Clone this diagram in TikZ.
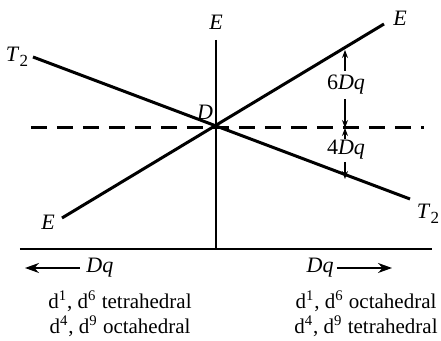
\documentclass[tikz,border=0pt]{standalone}
\usepackage{fontspec}
\setmainfont{Liberation Serif}
\usetikzlibrary{arrows.meta}
\begin{document}
\begin{tikzpicture}[x=0.5pt,y=-0.5pt,
  lvl/.style={line width=1.5pt},
  axis/.style={line width=1pt},
  lab/.style={inner sep=0pt,font=\fontsize{11}{13}\selectfont},
  txt/.style={inner sep=0pt,font=\fontsize{10.5}{12}\selectfont},
  dim/.style={line width=0.6pt,-{Stealth[length=4pt,width=3pt]}},
  bigarr/.style={line width=0.8pt,-{Stealth[length=7pt,width=5pt]}}]
\useasboundingbox (0,0) rectangle (441,341);
\coordinate (D) at (216,128);
\coordinate (axTop) at (216,40);
\coordinate (axBot) at (216,249);
\coordinate (baseL) at (20,249);
\coordinate (baseR) at (432,249);
\coordinate (eL) at (62,218);
\coordinate (eR) at (384,24);
\coordinate (tL) at (33,57);
\coordinate (tR) at (410,199);
\coordinate (dL) at (31,128);
\coordinate (dR) at (424,128);
\draw[axis] (axTop) -- (axBot);
\draw[axis] (baseL) -- (baseR);
\draw[lvl] (eL) -- (eR);
\draw[lvl] (tL) -- (tR);
\draw[lvl,dashed,dash pattern=on 8pt off 5pt] (dL) -- (dR);
% labels
\node[lab] (Etop) at (216,22) {\textit{E}};
\node[lab] (Eright) at (400,18) {\textit{E}};
\node[lab] (Eleft) at (48,222) {\textit{E}};
\node[lab] (Tleft) at (17,57) {\textit{T}\raisebox{-0.5ex}{\fontsize{8.5}{9}\selectfont 2}};
\node[lab] (Tright) at (428,214) {\textit{T}\raisebox{-0.5ex}{\fontsize{8.5}{9}\selectfont 2}};
\node[lab] (Dlab) at (205,112) {\textit{D}};
% dimension arrows
\node[lab] (six) at (346,85) {6\textit{Dq}};
\node[lab] (four) at (346,150) {4\textit{Dq}};
\coordinate (eHit) at (345,50);
\coordinate (dHit) at (345,128);
\coordinate (tHit) at (345,179);
\draw[dim] (six.north -| eHit) ++(0,-4) -- (eHit);
\draw[dim] (six.south -| eHit) ++(0,4) -- (dHit);
\draw[dim] (four.north -| eHit) ++(0,-1) -- (dHit);
\draw[dim] (four.south -| eHit) ++(0,2) -- (tHit);
% bottom
\node[lab,anchor=west] (dqL) at (86,268) {\textit{Dq}};
\node[lab,anchor=east] (dqR) at (334,268) {\textit{Dq}};
\coordinate (aL) at (25,268);
\coordinate (aR) at (392,268);
\draw[bigarr] (dqL.west) ++(-6,0) -- (aL);
\draw[bigarr] (dqR.east) ++(3,0) -- (aR);
\node[txt] (l1) at (120,301) {d\textsuperscript{1}, d\textsuperscript{6} tetrahedral};
\node[txt] (l2) at (120,326) {d\textsuperscript{4}, d\textsuperscript{9} octahedral};
\node[txt] (r1) at (366,301) {d\textsuperscript{1}, d\textsuperscript{6} octahedral};
\node[txt] (r2) at (366,326) {d\textsuperscript{4}, d\textsuperscript{9} tetrahedral};
\end{tikzpicture}
\end{document}
